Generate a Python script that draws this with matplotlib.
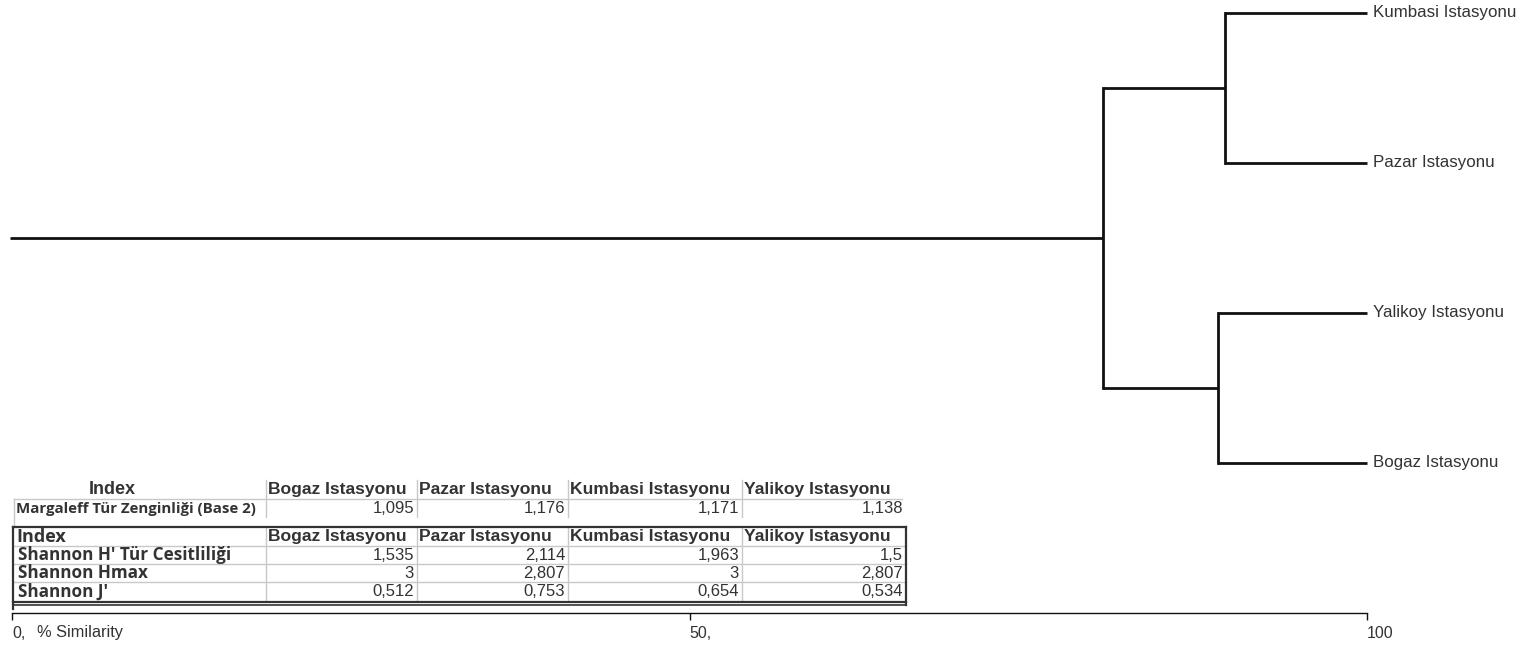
import matplotlib
matplotlib.use("Agg")
import matplotlib.pyplot as plt
from matplotlib.lines import Line2D

# ---------------- data ----------------
leaves = ["Kumbasi Istasyonu", "Pazar Istasyonu", "Yalikoy Istasyonu", "Bogaz Istasyonu"]
# merges: (left member, right member, similarity %) ; members >= len(leaves) are clusters
merges = [(0, 1, 89.5), (2, 3, 89.0), (4, 5, 80.5)]
root_start = 0.0
xticks = [0, 50, 100]
xtick_labels = ["0,", "50,", "100"]
axis_title = "% Similarity"

stations = ["Bogaz Istasyonu", "Pazar Istasyonu", "Kumbasi Istasyonu", "Yalikoy Istasyonu"]
margaleff_label = "Margaleff Tür Zenginliği (Base 2)"
margaleff = ["1,095", "1,176", "1,171", "1,138"]
shannon_rows = ["Shannon H' Tür Cesitliliği", "Shannon Hmax", "Shannon J'"]
shannon_h = ["1,535", "2,114", "1,963", "1,5"]
shannon_hmax = ["3", "2,807", "3", "2,807"]
shannon_j = ["0,512", "0,753", "0,654", "0,534"]

# ---------------- figure ----------------
W, H = 1536, 649
fig = plt.figure(figsize=(W / 100, H / 100), dpi=100)
fig.patch.set_facecolor("white")

def fx(px):
    return px / W

def fy(py):
    return 1 - py / H

TXT = "#333333"
LINE = "#111111"

# dendrogram axes: x in % similarity, y in leaf index
ax = fig.add_axes([fx(12), fy(613), fx(1367) - fx(12), fy(0) - fy(613)])
ax.set_xlim(0, 100)
ax.set_ylim(4.0, -13 / 150)
for s in ["top", "right", "left"]:
    ax.spines[s].set_visible(False)
ax.spines["bottom"].set_color(LINE)
ax.spines["bottom"].set_linewidth(1.0)
ax.set_yticks([])
ax.set_xticks(xticks)
ax.set_xticklabels(xtick_labels)
ax.tick_params(axis="x", direction="out", length=5, width=1, color=LINE,
               pad=4, labelsize=11.5, labelcolor=TXT)
for lab in ax.get_xticklabels():
    lab.set_horizontalalignment("left")
    lab.set_fontfamily("Liberation Sans")
ax.patch.set_alpha(0)

# build dendrogram coordinates
pos = {i: (100.0, float(i)) for i in range(len(leaves))}
lw = 2.0
nid = len(leaves)
for a, b, h in merges:
    xa, ya = pos[a]
    xb, yb = pos[b]
    ax.plot([h, xa], [ya, ya], color=LINE, lw=lw, solid_capstyle="butt", clip_on=False)
    ax.plot([h, xb], [yb, yb], color=LINE, lw=lw, solid_capstyle="butt", clip_on=False)
    ax.plot([h, h], [ya, yb], color=LINE, lw=lw, solid_capstyle="projecting", clip_on=False)
    pos[nid] = (h, (ya + yb) / 2)
    nid += 1
xr, yr = pos[nid - 1]
ax.plot([root_start - 0.15, xr], [yr, yr], color=LINE, lw=lw, solid_capstyle="butt", clip_on=False)

for i, name in enumerate(leaves):
    ax.text(100.45, i, name, ha="left", va="center", fontsize=12.2, color=TXT,
            family="Liberation Sans", clip_on=False)

# ---------------- table overlay (pixel coords) ----------------
tx = fig.add_axes([0, 0, 1, 1])
tx.set_xlim(0, W)
tx.set_ylim(H, 0)
tx.axis("off")
tx.patch.set_alpha(0)

tx.text(37, 633, axis_title, ha="left", va="center", fontsize=11.8, color=TXT,
        family="Liberation Sans")

col_edges = [14, 266, 417, 568, 742, 906]
LIGHT = "#c8c8c8"
DARK = "#333333"

def hline(x0, x1, y, c, w=1.0):
    tx.add_line(Line2D([x0, x1], [y, y], color=c, lw=w))

def vline(x, y0, y1, c, w=1.0):
    tx.add_line(Line2D([x, x], [y0, y1], color=c, lw=w))

# first table
r1 = [480, 499, 517]
hline(col_edges[0], col_edges[-1] - 4, r1[1], LIGHT)
vline(col_edges[0], r1[1], 527, LIGHT)
for x in col_edges[1:-1]:
    vline(x, r1[0], r1[2], LIGHT)

tx.text(112, 489.5, "Index", ha="center", va="center",
        fontsize=13, fontweight="bold", color=TXT, family="Liberation Sans")
for j, st in enumerate(stations):
    tx.text(col_edges[j + 1] + 2, 489.5, st, ha="left", va="center",
            fontsize=12.6, fontweight="bold", color=TXT, family="Liberation Sans")
tx.text(16, 509, margaleff_label, ha="left", va="center", fontsize=10.8,
        fontweight="bold", color=TXT, family="Open Sans")
for j, v in enumerate(margaleff):
    tx.text(col_edges[j + 2] - 3, 508.5, v, ha="right", va="center",
            fontsize=12, color=TXT, family="Liberation Sans")

# second table
r2 = [527, 546, 564, 582, 601]
for y in r2[1:-1]:
    hline(col_edges[0], col_edges[-1], y, LIGHT)
for x in col_edges[1:-1]:
    vline(x, r2[0], r2[-1], LIGHT)
hline(13, col_edges[-1], r2[0], DARK, 1.6)
hline(13, col_edges[-1], r2[-1] + 1, DARK, 1.6)
hline(13, col_edges[-1], r2[-1] + 4, DARK, 1.2)
vline(13, r2[0], 609, DARK, 1.6)
vline(col_edges[-1], r2[0], r2[-1] + 4, DARK, 1.6)

tx.text(16, 537, "Index", ha="left", va="center", fontsize=13, fontweight="bold",
        color=TXT, family="Open Sans")
for j, st in enumerate(stations):
    tx.text(col_edges[j + 1] + 2, 537, st, ha="left", va="center",
            fontsize=12.6, fontweight="bold", color=TXT, family="Liberation Sans")
rows_vals = [shannon_h, shannon_hmax, shannon_j]
for k, (lab, vals) in enumerate(zip(shannon_rows, rows_vals)):
    yc = (r2[k + 1] + r2[k + 2]) / 2
    tx.text(18, yc, lab, ha="left", va="center", fontsize=12.3, fontweight="bold",
            color=TXT, family="Open Sans")
    for j, v in enumerate(vals):
        tx.text(col_edges[j + 2] - 3, yc, v, ha="right", va="center",
                fontsize=12, color=TXT, family="Liberation Sans")

fig.savefig("out.png", dpi=100, facecolor="white")
